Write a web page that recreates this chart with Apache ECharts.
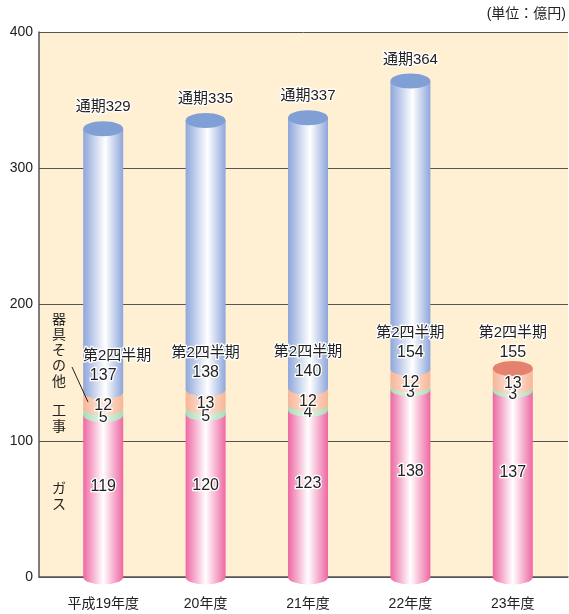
<!DOCTYPE html>
<html><head><meta charset="utf-8">
<script src="https://cdn.jsdelivr.net/npm/echarts@6/dist/echarts.min.js"></script>
<style>html,body{margin:0;padding:0;background:#fff}#c{width:569px;height:614px}</style>
</head><body><div id="c"></div>
<script>
var categories = ['平成19年度','20年度','21年度','22年度','23年度'];
var gas = [119,120,123,138,137];
var construction = [5,5,4,3,3];
var equipment = [12,13,12,12,13];
var halfYear = [137,138,140,154,155];
var fullYear = [329,335,337,364,null];
var yTicks = [0,100,200,300,400];

var FONT = '"Liberation Sans","Noto Sans CJK JP",sans-serif';
var chart = echarts.init(document.getElementById('c'));

function hgrad(edge, mid, midPos) {
  return new echarts.graphic.LinearGradient(0,0,1,0,[
    {offset:0,color:edge},{offset:midPos,color:mid},{offset:1,color:edge}]);
}
var colGas = hgrad('#ee67a3','#ffffff',0.5);
var colCon = hgrad('#a9dcb6','#e6f6ea',0.5);
var colEq = hgrad('#f7b597','#fde7dc',0.5);
var colH2 = hgrad('#8ea6db','#ffffff',0.55);

function segPath(cx, yTop, yBot, rx, ry) {
  return 'M' + (cx-rx) + ' ' + yTop + ' L' + (cx+rx) + ' ' + yTop +
    ' L' + (cx+rx) + ' ' + yBot +
    ' A' + rx + ' ' + ry + ' 0 0 1 ' + (cx-rx) + ' ' + yBot + ' Z';
}
function textEl(x, y, s, size) {
  return {type:'text', style:{x:x, y:y, text:s, fill:'#222', font: size + 'px ' + FONT,
    textAlign:'center', textVerticalAlign:'middle', stroke:'#fff', lineWidth:2.5}, z2:10};
}

function renderItem(params, api) {
  var i = api.value(0);
  var rx = 20, ry = 7.5;
  var p0 = api.coord([i, 0]);
  var cx = p0[0];
  var y0 = p0[1];
  var yg = api.coord([i, gas[i]])[1];
  var yc = api.coord([i, gas[i]+construction[i]])[1];
  var ye = api.coord([i, gas[i]+construction[i]+equipment[i]])[1];
  var children = [];
  children.push({type:'path', shape:{pathData: segPath(cx, yg, y0, rx, ry)}, style:{fill:colGas}});
  children.push({type:'path', shape:{pathData: segPath(cx, yc, yg, rx, ry)}, style:{fill:colCon}});
  children.push({type:'path', shape:{pathData: segPath(cx, ye, yc, rx, ry)}, style:{fill:colEq}});
  var topY, topColor;
  if (fullYear[i] != null) {
    var yf = api.coord([i, fullYear[i]])[1];
    children.push({type:'path', shape:{pathData: segPath(cx, yf, ye, rx, ry)}, style:{fill:colH2}});
    topY = yf; topColor = '#7f9fd5';
    children.push(textEl(cx, yf - ry - 14, '通期' + fullYear[i], 15));
  } else {
    topY = ye; topColor = '#e4826f';
  }
  children.push({type:'ellipse', shape:{cx:cx, cy:topY, rx:rx, ry:ry}, style:{fill:topColor}});
  var yGasLbl = api.coord([i, gas[i]*0.56])[1];
  children.push(textEl(cx, yGasLbl, String(gas[i]), 16));
  children.push(textEl(cx, (yg+yc)/2 + 6, String(construction[i]), 16));
  children.push(textEl(cx, (yc+ye)/2 + 6, String(equipment[i]), 16));
  children.push(textEl(cx, ye - 16, String(halfYear[i]), 16));
  children.push(textEl(cx + (i === 0 ? 14 : 0), ye - 36, '第2四半期', 15));
  return {type:'group', children: children};
}

var option = {
  animation: false,
  backgroundColor: '#fff',
  grid: [
    {left:39, right:1, top:32, bottom:37, show:true, backgroundColor:'#fff0d3', borderWidth:0},
    {left:52, right:5, top:32, bottom:37}
  ],
  xAxis: [
    {gridIndex:0, type:'value', min:0, max:1, axisLine:{show:true, lineStyle:{color:'#555', width:1.5}},
     axisTick:{show:false}, axisLabel:{show:false}, splitLine:{show:false}},
    {gridIndex:1, type:'category', data: categories, axisLine:{show:false}, axisTick:{show:false},
     axisLabel:{color:'#222', fontSize:14, fontFamily:FONT, margin:20}}
  ],
  yAxis: [
    {gridIndex:0, type:'value', min:0, max:400, interval:100,
     axisLine:{show:true, lineStyle:{color:'#555', width:1.5}}, axisTick:{show:false},
     axisLabel:{color:'#222', fontSize:14, fontFamily:FONT, margin:6,
       formatter:function(v){ return yTicks.indexOf(v) >= 0 ? String(v) : ''; }},
     splitLine:{show:true, lineStyle:{color:'#555', width:1}}},
    {gridIndex:1, type:'value', min:0, max:400, interval:100, show:false}
  ],
  series: [{
    type:'custom', xAxisIndex:1, yAxisIndex:1,
    renderItem: renderItem,
    data: categories.map(function(c, i){ return [i, fullYear[i] != null ? fullYear[i] : halfYear[i]]; }),
    clip:false, z:5
  }],
  graphic: [
    {type:'text', right:3, top:7, style:{text:'(単位：億円)', fill:'#222', font:'14px ' + FONT}},
    {type:'text', left:52, top:312, style:{text:'器\n具\nそ\nの\n他', fill:'#222', font:'14px ' + FONT, lineHeight:15.5}, z:20},
    {type:'text', left:52, top:403, style:{text:'工\n事', fill:'#222', font:'14px ' + FONT, lineHeight:16}, z:20},
    {type:'text', left:52, top:481, style:{text:'ガ\nス', fill:'#222', font:'14px ' + FONT, lineHeight:16}, z:20},
    {type:'line', shape:{x1:72, y1:367, x2:88, y2:402}, style:{stroke:'#222', lineWidth:1}, z:20}
  ]
};
chart.setOption(option);
</script></body></html>
